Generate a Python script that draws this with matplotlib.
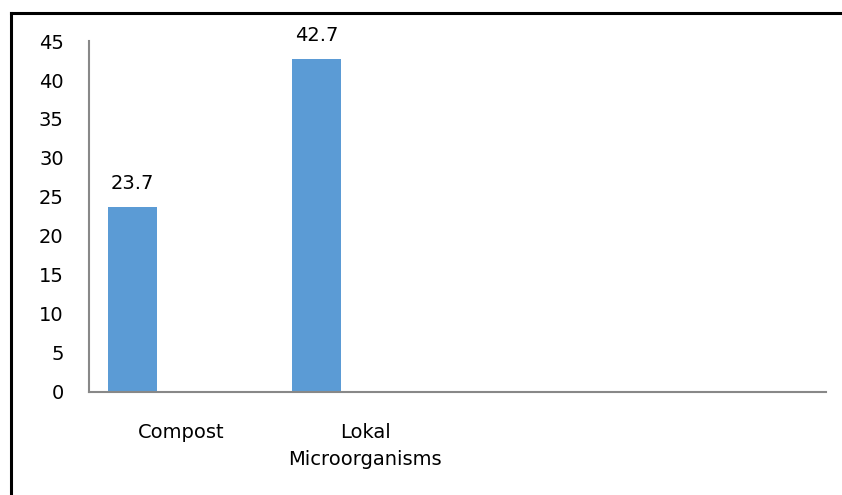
import numpy as np
import matplotlib.pyplot as plt
from matplotlib.lines import Line2D

# categorias y valores
categorias = ['Compost', 'Lokal\nMicroorganisms', '', '']
valores = [23.7, 42.7]
yticks = [0, 5, 10, 15, 20, 25, 30, 35, 40, 45]

color_barra = '#5B9BD5'
color_eje = '#888888'

plt.rcParams['font.family'] = ['DejaVu Sans']

fig = plt.figure(figsize=(8.42, 4.95), dpi=100)
ax = fig.add_axes([0.1053, 0.209, 0.8757, 0.708])

x = np.arange(len(categorias))
desp = -0.262  # la serie va a la izquierda de cada categoria
ancho = 0.266
barras = ax.bar(x[:len(valores)] + desp, valores, width=ancho, color=color_barra)

for xi, v in zip(x[:len(valores)] + desp, valores):
    ax.text(xi, v + 1.8, '%.1f' % v, ha='center', va='bottom', fontsize=14)

ax.set_xlim(-0.5, len(categorias) - 0.5)
ax.set_ylim(0, 45)
ax.set_yticks(yticks)
ax.set_yticklabels([str(t) for t in yticks], fontsize=14)
ax.set_xticks(x)
ax.set_xticklabels(categorias, fontsize=14, linespacing=1.5)
ax.tick_params(axis='both', length=0)
ax.tick_params(axis='y', pad=18)
ax.tick_params(axis='x', pad=23)

for s in ['top', 'right']:
    ax.spines[s].set_visible(False)
for s in ['left', 'bottom']:
    ax.spines[s].set_color(color_eje)
    ax.spines[s].set_linewidth(1.5)

# marco exterior (solo izquierda y arriba)
fig.add_artist(Line2D([11 / 842, 11 / 842], [0, 1 - 13 / 495], color='black', lw=2.2, transform=fig.transFigure))
fig.add_artist(Line2D([11 / 842, 1], [1 - 13 / 495, 1 - 13 / 495], color='black', lw=2.2, transform=fig.transFigure))

fig.savefig('out.png', dpi=100)
